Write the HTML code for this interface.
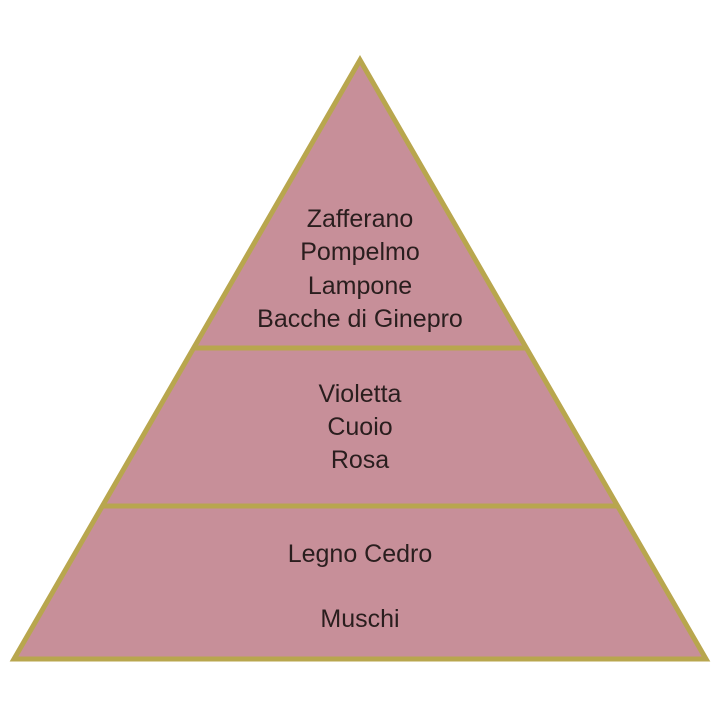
<!DOCTYPE html>
<html><head><style>
html,body{margin:0;padding:0;background:#fff;width:720px;height:720px;overflow:hidden}
svg text{font-family:"Liberation Sans",sans-serif;font-size:25px;fill:#2a1e1e;text-anchor:middle}
</style></head><body>
<svg width="720" height="720" viewBox="0 0 720 720">
<polygon points="360,60 14,659 706,659" fill="#c78f99" stroke="#b8a64e" stroke-width="5" stroke-linejoin="miter"/>
<line x1="195" y1="348" x2="525" y2="348" stroke="#b8a64e" stroke-width="5"/>
<line x1="103" y1="506" x2="617" y2="506" stroke="#b8a64e" stroke-width="5"/>
<text x="360" y="227">Zafferano</text>
<text x="360" y="260">Pompelmo</text>
<text x="360" y="294">Lampone</text>
<text x="360" y="327">Bacche di Ginepro</text>
<text x="360" y="402">Violetta</text>
<text x="360" y="435">Cuoio</text>
<text x="360" y="468">Rosa</text>
<text x="360" y="562">Legno Cedro</text>
<text x="360" y="627">Muschi</text>
</svg>
</body></html>
